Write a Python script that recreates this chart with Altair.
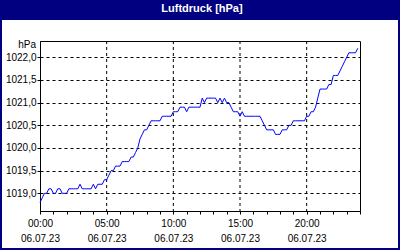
import altair as alt
import pandas as pd

# readings every 10 minutes, 06.07.23 00:00 .. 23:50 (hPa)
pressure = [
    1018.8, 1018.9, 1019.0, 1019.0, 1019.1, 1019.1,   # 00
    1019.0, 1019.0, 1019.1, 1019.1, 1019.0, 1019.0,   # 01
    1019.0, 1019.1, 1019.1, 1019.1, 1019.1, 1019.1,   # 02
    1019.2, 1019.1, 1019.1, 1019.1, 1019.1, 1019.1,   # 03
    1019.2, 1019.1, 1019.2, 1019.2, 1019.2, 1019.3,   # 04
    1019.3, 1019.4, 1019.5, 1019.5, 1019.6, 1019.6,   # 05
    1019.6, 1019.7, 1019.7, 1019.7, 1019.7, 1019.8,   # 06
    1019.8, 1019.9, 1020.0, 1020.2, 1020.3, 1020.4,   # 07
    1020.4, 1020.5, 1020.6, 1020.6, 1020.6, 1020.6,   # 08
    1020.6, 1020.7, 1020.7, 1020.7, 1020.7, 1020.7,   # 09
    1020.8, 1020.8, 1020.8, 1020.9, 1020.9, 1020.9,   # 10
    1020.8, 1020.9, 1020.9, 1020.9, 1020.9, 1020.9,   # 11
    1020.9, 1021.1, 1021.0, 1021.1, 1021.1, 1021.1,   # 12
    1021.1, 1021.1, 1021.0, 1021.1, 1021.0, 1021.1,   # 13
    1021.0, 1021.0, 1020.9, 1020.8, 1020.8, 1020.8,   # 14
    1020.7, 1020.8, 1020.7, 1020.7, 1020.7, 1020.7,   # 15
    1020.7, 1020.7, 1020.7, 1020.7, 1020.6, 1020.5,   # 16
    1020.4, 1020.4, 1020.4, 1020.4, 1020.3, 1020.3,   # 17
    1020.3, 1020.4, 1020.4, 1020.4, 1020.5, 1020.5,   # 18
    1020.6, 1020.6, 1020.6, 1020.6, 1020.6, 1020.6,   # 19
    1020.7, 1020.7, 1020.8, 1020.8, 1020.9, 1021.1,   # 20
    1021.3, 1021.3, 1021.3, 1021.3, 1021.4, 1021.4,   # 21
    1021.6, 1021.6, 1021.6, 1021.7, 1021.8, 1021.9,   # 22
    1022.0, 1022.1, 1022.1, 1022.1, 1022.1, 1022.2,   # 23
]
hours = [i / 6 for i in range(len(pressure))]

x_ticks = list(range(25))
x_grid = [5, 10, 15, 20]
date_label = "06.07.23"
y_ticks = [1019.0, 1019.5, 1020.0, 1020.5, 1021.0, 1021.5, 1022.0]
y_domain = [1018.61, 1022.36]
title_text = "Luftdruck [hPa]"
unit_text = "hPa"

FONT = "Liberation Sans"
NAVY = "#000080"

df = pd.DataFrame({"h": hours, "p": pressure})
one = pd.DataFrame({"a": [0]})
grid_df = pd.DataFrame({"h": x_grid})

xscale = alt.Scale(domain=[0, 24], nice=False, zero=False)
xaxis = alt.Axis(
    values=x_ticks,
    grid=False,
    tickSize=3,
    tickColor="black",
    domainColor="black",
    labelColor="black",
    labelFont=FONT,
    labelFontSize=10,
    labelPadding=4,
    labelLineHeight=15,
    labelOverlap=False,
    labelFlush=False,
    labelBaseline="top",
    labelExpr=(
        "datum.value % 5 == 0 && datum.value < 24 ? "
        "[(datum.value < 10 ? '0' : '') + datum.value + ':00', '" + date_label + "'] : ''"
    ),
    title=None,
)
x_enc = alt.X("h:Q", scale=xscale, axis=xaxis)

title_bar = alt.Chart(one).mark_rect(color=NAVY).encode(
    x=alt.value(-40), x2=alt.value(360), y=alt.value(-41), y2=alt.value(-21)
)
border = alt.Chart(one).mark_rect(filled=False, stroke=NAVY, strokeWidth=2).encode(
    x=alt.value(-39), x2=alt.value(359), y=alt.value(-40), y2=alt.value(208)
)
title = alt.Chart(one).mark_text(
    text=title_text, color="white", font=FONT, fontSize=11, fontWeight="bold",
    align="center", baseline="middle"
).encode(x=alt.value(162), y=alt.value(-32))
unit = alt.Chart(one).mark_text(
    text=unit_text, color="black", font=FONT, fontSize=10,
    align="right", baseline="middle"
).encode(x=alt.value(-4), y=alt.value(4))

vgrid = alt.Chart(grid_df).mark_rule(color="black", strokeDash=[3, 3], strokeWidth=1).encode(
    x=x_enc
)

line = alt.Chart(df).mark_line(color="#0000FF", strokeWidth=1).encode(
    x=x_enc,
    y=alt.Y(
        "p:Q",
        scale=alt.Scale(domain=y_domain, nice=False, zero=False),
        axis=alt.Axis(
            values=y_ticks,
            grid=True,
            gridColor="black",
            gridDash=[3, 3],
            gridWidth=1,
            tickSize=3,
            tickColor="black",
            domainColor="black",
            labelColor="black",
            labelFont=FONT,
            labelFontSize=10,
            labelPadding=1,
            labelExpr="replace(format(datum.value, '.1f'), '.', ',')",
            title=None,
        ),
    ),
)

chart = alt.layer(title_bar, border, title, unit, vgrid, line).properties(
    width=320,
    height=170,
    padding={"left": 40, "top": 41, "right": 40, "bottom": 39},
    autosize=alt.AutoSizeParams(type="none"),
    background="white",
).configure_view(stroke="black", strokeWidth=1)

chart.save("out.html", embed_options={"renderer": "svg", "actions": False})
